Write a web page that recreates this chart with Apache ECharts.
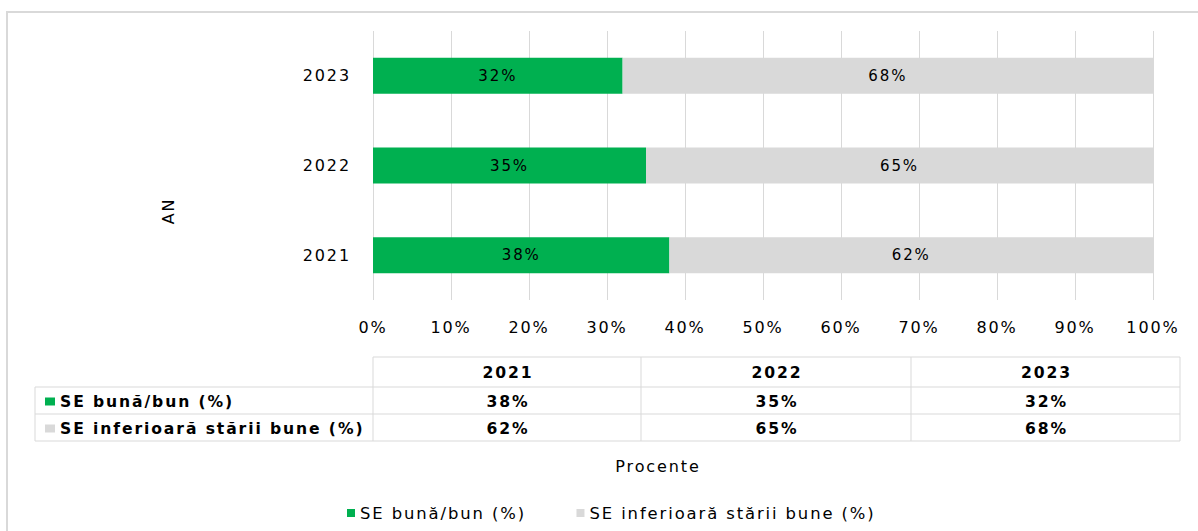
<!DOCTYPE html>
<html>
<head>
<meta charset="utf-8">
<script src="https://cdn.jsdelivr.net/npm/echarts@6/dist/echarts.min.js"></script>
<style>
html,body{margin:0;padding:0;background:#fff;}
#c{width:1198px;height:531px;}
#c svg text{letter-spacing:1.9px;}
</style>
</head>
<body>
<div id="c"></div>
<script>
const years = ['2021', '2022', '2023'];
const seriesNames = ['SE bună/bun (%)', 'SE inferioară stării bune (%)'];
const goodValues = [38, 35, 32];
const belowValues = [62, 65, 68];
const xTicks = [0, 10, 20, 30, 40, 50, 60, 70, 80, 90, 100];
const axisTitleX = 'Procente';
const axisTitleY = 'AN';
const colors = ['#00B050', '#D9D9D9'];
const FONT = 'DejaVu Sans';

const chart = echarts.init(document.getElementById('c'), null, {renderer: 'svg'});

// table layout
const tbl = {
  x0: 35, colX: [373, 641, 911, 1180],
  y: [357, 387, 414, 441]
};
const border = '#d9d9d9';
const g = [];
// outer frame
g.push({type: 'rect', shape: {x: 7, y: 12, width: 1200, height: 530}, style: {fill: null, stroke: border, lineWidth: 2}, silent: true});
// table lines
g.push({type: 'line', shape: {x1: tbl.colX[0], y1: tbl.y[0], x2: tbl.colX[3], y2: tbl.y[0]}, style: {stroke: border, lineWidth: 1}});
for (let r = 1; r < 4; r++) {
  g.push({type: 'line', shape: {x1: tbl.x0, y1: tbl.y[r], x2: tbl.colX[3], y2: tbl.y[r]}, style: {stroke: border, lineWidth: 1}});
}
tbl.colX.forEach(function (cx) {
  g.push({type: 'line', shape: {x1: cx, y1: tbl.y[0], x2: cx, y2: tbl.y[3]}, style: {stroke: border, lineWidth: 1}});
});
g.push({type: 'line', shape: {x1: tbl.x0, y1: tbl.y[1], x2: tbl.x0, y2: tbl.y[3]}, style: {stroke: border, lineWidth: 1}});
// header texts
years.forEach(function (yr, i) {
  g.push({type: 'text', x: (tbl.colX[i] + tbl.colX[i + 1]) / 2 + 1, y: (tbl.y[0] + tbl.y[1]) / 2 + 1,
    style: {text: yr, fill: '#000', font: 'bold 15.6px ' + FONT, align: 'center', verticalAlign: 'middle'}});
});
const rows = [goodValues, belowValues];
rows.forEach(function (vals, r) {
  const cy = (tbl.y[r + 1] + tbl.y[r + 2]) / 2 + 1;
  g.push({type: 'rect', shape: {x: 45, y: cy - 4, width: 10, height: 8}, style: {fill: colors[r]}});
  g.push({type: 'text', x: 60, y: cy, style: {text: seriesNames[r], fill: '#000', font: 'bold 15.6px ' + FONT, align: 'left', verticalAlign: 'middle'}});
  vals.forEach(function (v, i) {
    g.push({type: 'text', x: (tbl.colX[i] + tbl.colX[i + 1]) / 2 + 1, y: cy,
      style: {text: v + '%', fill: '#000', font: 'bold 15.6px ' + FONT, align: 'center', verticalAlign: 'middle'}});
  });
});
g.push({type: 'text', x: 658, y: 466, style: {text: axisTitleX, fill: '#000', font: '16px ' + FONT, align: 'center', verticalAlign: 'middle'}});
g.push({type: 'text', x: 168, y: 211, rotation: Math.PI / 2, style: {text: axisTitleY, fill: '#000', font: '16px ' + FONT, align: 'center', verticalAlign: 'middle'}});

chart.setOption({
  animation: false,
  textStyle: {fontFamily: FONT},
  grid: {left: 373, right: 45, top: 31, height: 269, containLabel: false},
  legend: {
    top: 500, left: 342, itemWidth: 8, itemHeight: 8, itemGap: 79, icon: 'rect',
    textStyle: {fontSize: 16.4, color: '#000', fontFamily: FONT},
    data: seriesNames
  },
  xAxis: {
    type: 'value', min: 0, max: 100, interval: 10,
    axisLine: {show: false}, axisTick: {show: false},
    splitLine: {lineStyle: {color: '#d9d9d9', width: 1}},
    axisLabel: {formatter: function (v) { return xTicks.indexOf(v) >= 0 ? v + '%' : ''; }, fontSize: 16, color: '#000', margin: 19, fontFamily: FONT}
  },
  yAxis: {
    type: 'category', data: years,
    axisLine: {show: false}, axisTick: {show: false},
    axisLabel: {fontSize: 16, color: '#000', margin: 22, fontFamily: FONT}
  },
  series: [
    {name: seriesNames[0], type: 'bar', stack: 'a', data: goodValues, barWidth: 36,
     itemStyle: {color: colors[0]},
     label: {show: true, position: 'inside', formatter: '{c}%', color: '#000', fontSize: 15, fontFamily: FONT}},
    {name: seriesNames[1], type: 'bar', stack: 'a', data: belowValues, barWidth: 36,
     itemStyle: {color: colors[1]},
     label: {show: true, position: 'inside', formatter: '{c}%', color: '#000', fontSize: 15, fontFamily: FONT}}
  ],
  graphic: g
});
</script>
</body>
</html>
